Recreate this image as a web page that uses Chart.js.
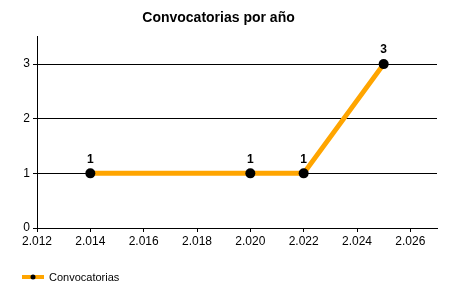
<!DOCTYPE html>
<html>
<head>
<meta charset="utf-8">
<script src="https://cdn.jsdelivr.net/npm/chart.js@4"></script>
<style>
  html, body { margin: 0; padding: 0; background: #fff; }
  #wrap { width: 450px; height: 300px; }
</style>
</head>
<body>
<div id="wrap"><canvas id="chart"></canvas></div>
<script>
// Data
const years = [2014, 2020, 2022, 2025];
const convocatorias = [1, 1, 1, 3];
const yTicks = [0, 1, 2, 3];

// labels above the points
const pointLabels = {
  id: "pointLabels",
  afterDatasetsDraw(chart) {
    const ctx = chart.ctx;
    const meta = chart.getDatasetMeta(0);
    ctx.save();
    ctx.font = "bold 12px 'Liberation Sans', Arial, sans-serif";
    ctx.fillStyle = "#000";
    ctx.textAlign = "center";
    ctx.textBaseline = "bottom";
    meta.data.forEach((pt, i) => {
      ctx.fillText(convocatorias[i], pt.x, pt.y - 8);
    });
    ctx.restore();
  }
};

// legend at bottom-left: orange line with black dot + label
const bottomLegend = {
  id: "bottomLegend",
  afterDraw(chart) {
    const ctx = chart.ctx;
    const ds = chart.data.datasets[0];
    const y = 277;
    ctx.save();
    ctx.fillStyle = ds.borderColor;
    ctx.fillRect(22, y - 2, 22, 4);
    ctx.fillStyle = "#000";
    ctx.beginPath(); ctx.arc(33, y, 2.5, 0, Math.PI * 2); ctx.fill();
    ctx.font = "11px 'Liberation Sans', Arial, sans-serif";
    ctx.textBaseline = "middle";
    ctx.fillText(ds.label, 49, y + 1);
    ctx.restore();
  }
};

function fmtYear(v) {
  const s = String(Math.round(v));
  return s.slice(0, 1) + "." + s.slice(1);
}

Chart.defaults.font.family = "'Liberation Sans', Arial, sans-serif";
Chart.defaults.color = "#000";

new Chart(document.getElementById("chart"), {
  type: "line",
  data: {
    datasets: [{
      label: "Convocatorias",
      data: years.map((y, i) => ({ x: y, y: convocatorias[i] })),
      borderColor: "#FFA500",
      borderWidth: 5,
      pointBackgroundColor: "#000",
      pointBorderColor: "#000",
      pointBorderWidth: 0,
      pointRadius: 5,
      tension: 0,
      fill: false
    }]
  },
  options: {
    responsive: true,
    maintainAspectRatio: false,
    animation: false,
    layout: { padding: { left: 0, right: 13, top: 0, bottom: 0 } },
    plugins: {
      title: {
        display: true,
        text: "Convocatorias por año",
        font: { size: 14, weight: "bold" },
        color: "#000",
        padding: { top: 10, bottom: 10 }
      },
      legend: { display: false },
      tooltip: { enabled: false }
    },
    scales: {
      x: {
        type: "linear",
        min: 2012,
        max: 2027,
        afterBuildTicks: (scale) => {
          scale.ticks = [];
          for (let v = 2012; v <= 2026; v += 2) scale.ticks.push({ value: v });
        },
        afterFit: (scale) => { scale.height = 72; },
        border: { color: "#000", width: 1 },
        grid: { drawOnChartArea: false, drawTicks: true, tickLength: 4, color: "#000" },
        ticks: {
          font: { size: 12 },
          color: "#000",
          padding: 2,
          maxRotation: 0,
          callback: (v) => fmtYear(v)
        }
      },
      y: {
        min: 0,
        max: 3.5,
        afterBuildTicks: (scale) => {
          scale.ticks = yTicks.map(v => ({ value: v }));
        },
        afterFit: (scale) => { scale.width = 37; },
        border: { color: "#000", width: 1 },
        grid: { color: "#000", tickLength: 4 },
        ticks: { font: { size: 12 }, color: "#000", padding: 3 }
      }
    }
  },
  plugins: [pointLabels, bottomLegend]
});
</script>
</body>
</html>
